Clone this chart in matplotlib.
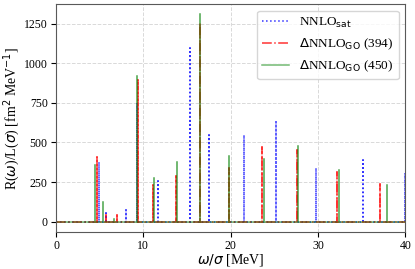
import matplotlib
matplotlib.use('Agg')
import matplotlib.pyplot as plt
import numpy as np

plt.rcParams['font.family'] = ['Liberation Serif', 'DejaVu Serif']

# peak positions (MeV) and strengths
sat_E = [4.91, 5.71, 8.04, 9.30, 11.73, 15.28, 17.49, 21.52, 25.18, 29.79, 35.09, 39.97]
sat_R = [375, 53, 74, 750, 257, 1100, 547, 547, 629, 341, 389, 309]

go394_E = [4.65, 5.71, 7.00, 9.41, 11.05, 13.75, 16.50, 19.77, 23.62, 27.62, 32.15, 37.07]
go394_R = [406, 40, 42, 894, 232, 288, 1252, 337, 473, 452, 316, 240]

go450_E = [4.49, 5.37, 6.67, 9.22, 11.16, 13.83, 16.46, 19.85, 23.85, 27.73, 32.42, 37.94]
go450_R = [358, 126, 17, 919, 274, 375, 1309, 415, 394, 478, 326, 232]


def sticks(E, R, x0=0.0, x1=40.0):
    xs, ys = [x0], [0.0]
    for e, r in zip(E, R):
        xs += [e, e, e]
        ys += [0.0, r, 0.0]
    xs.append(x1)
    ys.append(0.0)
    return np.array(xs), np.array(ys)


fig, ax = plt.subplots(figsize=(4.15, 2.69), dpi=100)
fig.subplots_adjust(left=0.135, right=0.977, top=0.985, bottom=0.138)

x, y = sticks(sat_E, sat_R)
ax.plot(x, y, color='b', ls=':', lw=1.1, alpha=0.8, label=r'NNLO$_\mathrm{sat}$')
x, y = sticks(go394_E, go394_R)
ax.plot(x, y, color='r', ls='-.', lw=1.1, alpha=0.8, label=r'$\Delta$NNLO$_\mathrm{GO}$ (394)')
x, y = sticks(go450_E, go450_R)
ax.plot(x, y, color='g', ls='-', lw=1.1, alpha=0.55, label=r'$\Delta$NNLO$_\mathrm{GO}$ (450)')

ax.set_xlim(0, 40)
ax.set_ylim(-65, 1375)
ax.set_xticks([0, 10, 20, 30, 40])
ax.set_yticks([0, 250, 500, 750, 1000, 1250])
ax.tick_params(labelsize=8.5, pad=2.5)
ax.grid(True, ls='--', color='0.85', lw=0.7)
for s in ax.spines.values():
    s.set_color('0.35')

ax.set_xlabel(r'$\omega/\sigma$ [MeV]', fontsize=10, labelpad=0)
ax.set_ylabel(r'R($\omega$)/L($\sigma$) [fm$^2$ MeV$^{-1}$]', fontsize=10, labelpad=1)
ax.legend(loc='upper right', fontsize=9.5)

fig.savefig('out.png', dpi=100)
